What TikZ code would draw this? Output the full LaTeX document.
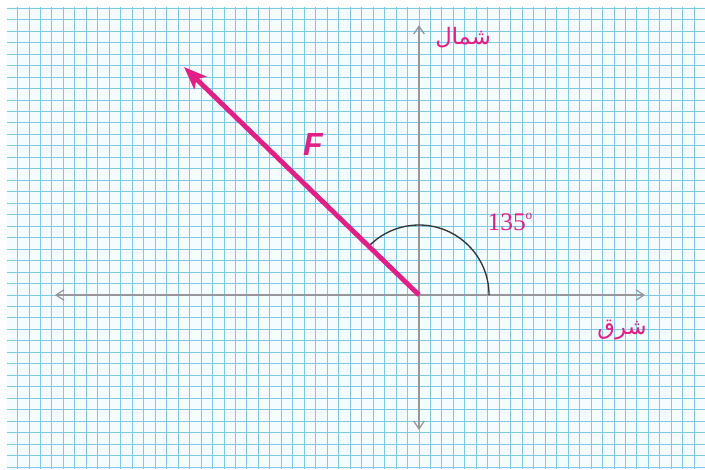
\documentclass[tikz,border=0pt]{standalone}
\usepackage{fontspec}
\setmainfont{Liberation Serif}
\newfontfamily\arabicfont[Script=Arabic]{DejaVu Sans}
\newfontfamily\labelsans{Liberation Sans}
\TeXXeTstate=1
\usetikzlibrary{arrows.meta}
\definecolor{gridc}{RGB}{125,202,230}
\definecolor{bgc}{RGB}{244,252,255}
\definecolor{magc}{RGB}{226,30,135}
\definecolor{axisc}{RGB}{150,150,155}
\tikzset{
  gridline/.style={draw=gridc, line width=0.75pt},
  axisline/.style={draw=axisc, line width=0.9pt, {Straight Barb[length=6pt,width=8pt]}-{Straight Barb[length=6pt,width=8pt]}},
  forcevec/.style={draw=magc, line width=3.6pt, -{Stealth[length=17pt,width=13pt,inset=4pt]}},
  anglearc/.style={draw=black!80, line width=1pt},
  maglabel/.style={text=magc, inner sep=0pt}
}
\begin{document}
\begin{tikzpicture}[x=0.75pt,y=-0.75pt]
\useasboundingbox (0,0) rectangle (705,469);
\fill[white] (0,0) rectangle (705,469);
\begin{scope}
\clip (7,7) rectangle (705,469);
\fill[bgc] (7,7) rectangle (705,469);
\foreach \i in {-36,...,25} \draw[gridline] ({419+\i*11.47},7) -- ({419+\i*11.47},469);
\foreach \j in {-25,...,15} \draw[gridline] (7,{295+\j*11.47}) -- (705,{295+\j*11.47});
\end{scope}
\coordinate (O) at (419,295);
\coordinate (xL) at (55,295);
\coordinate (xR) at (645,295);
\coordinate (yT) at (419,25);
\coordinate (yB) at (419,430);
\coordinate (Ftip) at (184,67);
\coordinate (arcS) at (489,295);
\draw[axisline] (xL) -- (xR);
\draw[axisline] (yB) -- (yT);
\draw[anglearc] (arcS) arc[start angle=0, end angle=-135, radius=70];
\draw[forcevec] (O) -- (Ftip);
\node[maglabel, font=\labelsans\bfseries\itshape\fontsize{24}{26}\selectfont] (Flab) at (313,144) {F};
\node[maglabel, font=\fontsize{19}{21}\selectfont] (ang) at (510,222) {135\raisebox{0.45em}{\fontsize{10}{10}\selectfont o}};
\node[maglabel, font=\arabicfont\fontsize{17}{20}\selectfont] (north) at (463,38) {\beginR شمال\endR};
\node[maglabel, font=\arabicfont\fontsize{17}{20}\selectfont] (east) at (622,330) {\beginR شرق\endR};
\end{tikzpicture}
\end{document}
